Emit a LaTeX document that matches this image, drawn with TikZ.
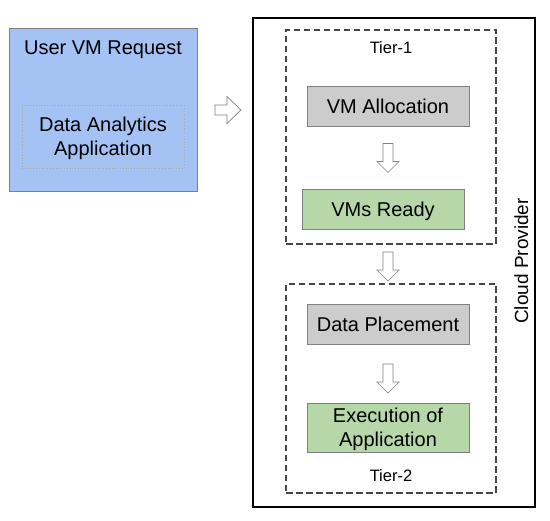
\documentclass[tikz,border=0pt]{standalone}
\usepackage{fontspec}
\setmainfont{Liberation Sans}
\usepackage{xcolor}
\definecolor{reqblue}{RGB}{164,194,244}
\definecolor{boxgray}{RGB}{204,204,204}
\definecolor{boxgreen}{RGB}{182,215,168}
\definecolor{edgegray}{RGB}{128,128,128}
\definecolor{dashgray}{RGB}{70,70,70}
\tikzset{
  bigtext/.style={font=\fontsize{20}{24}\selectfont},
  smalltext/.style={font=\fontsize{16.5}{19}\selectfont},
  stepbox/.style={draw=edgegray, line width=0.8pt, minimum width=162pt, minimum height=40pt, inner sep=0pt, text depth=0pt, align=center, bigtext},
  tierbox/.style={draw=dashgray, line width=1.2pt, dash pattern=on 6.5pt off 3.5pt, minimum width=210pt, inner sep=0pt},
  blockarrow/.style={draw=edgegray, fill=white, line width=0.7pt, line join=miter},
  pics/downarrow/.style={code={
    \draw[blockarrow] (-5,-14.5) -- (5,-14.5) -- (5,3.5) -- (11,3.5) -- (0,14.5) -- (-11,3.5) -- (-5,3.5) -- cycle;
  }},
  pics/rightarrow/.style={code={
    \draw[blockarrow] (-13,-5) -- (-1,-5) -- (-1,-13.5) -- (13,0) -- (-1,13.5) -- (-1,5) -- (-13,5) -- cycle;
  }}
}

\begin{document}
\begin{tikzpicture}[x=1pt, y=-1pt]
\useasboundingbox (0,0) rectangle (550,521);

% user request
\node[draw=edgegray, fill=reqblue, line width=0.8pt, minimum width=188pt, minimum height=163pt, inner sep=0pt] (req) at (103,109.5) {};
\node[bigtext, anchor=base] (reqlabel) at (103,55) {User VM Request};
\node[draw=edgegray!70, dotted, line width=0.8pt, minimum width=162pt, minimum height=63pt, inner sep=0pt, text depth=0pt, align=center, bigtext] (app) at (103,136.5) {Data Analytics\\Application};

\pic (toprov) at (228,110) {rightarrow};

% cloud provider
\node[draw=black, line width=1.5pt, minimum width=282pt, minimum height=489pt, inner sep=0pt] (cloud) at (394,262.5) {};
\node[font=\fontsize{19}{22}\selectfont, rotate=90, anchor=base] (cloudlabel) at (528,261) {Cloud Provider};

% tier 1
\node[tierbox, minimum height=214pt] (tierone) at (391,137) {};
\node[smalltext, anchor=base] (tieronelabel) at (391,53.3) {Tier-1};
\node[stepbox, fill=boxgray] (alloc) at (388,106) {VM Allocation};
\pic (down1) at (388,158) {downarrow};
\node[stepbox, fill=boxgreen] (ready) at (383,209) {VMs Ready};

\pic (down2) at (388,266.5) {downarrow};

% tier 2
\node[tierbox, minimum height=209pt] (tiertwo) at (391,388.5) {};
\node[stepbox, fill=boxgray] (place) at (388,324) {Data Placement};
\pic (down3) at (388,378.5) {downarrow};
\node[stepbox, fill=boxgreen, minimum height=49pt] (exec) at (388,427.5) {Execution of\\Application};
\node[smalltext, anchor=base] (tiertwolabel) at (391,481.7) {Tier-2};

\end{tikzpicture}
\end{document}
